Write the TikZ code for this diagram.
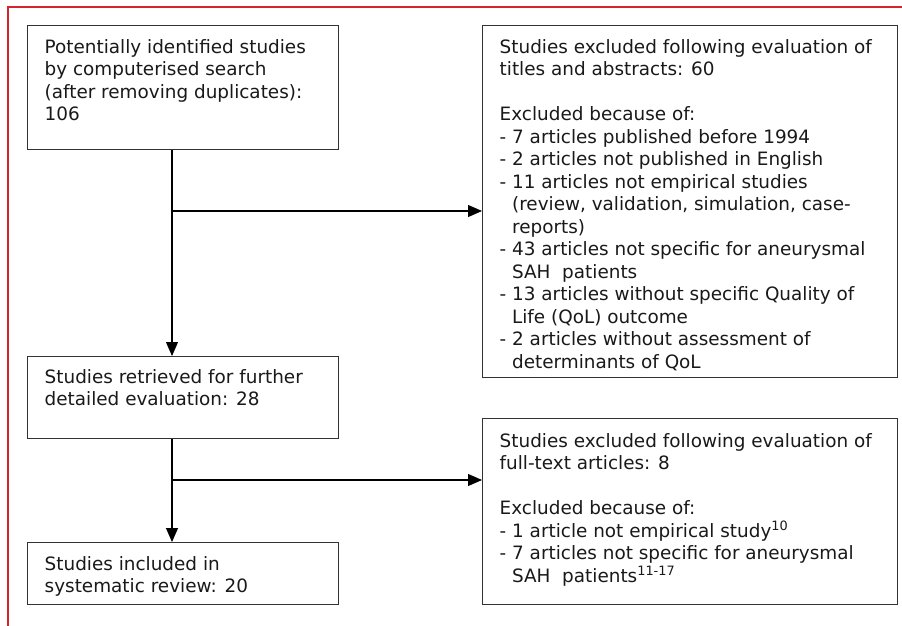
\documentclass[tikz,border=0pt]{standalone}
\usepackage{fontspec}
\setmainfont{DejaVu Sans}
\usetikzlibrary{arrows.meta}
\definecolor{framered}{RGB}{214,36,46}
\definecolor{boxline}{RGB}{50,50,50}
\tikzset{
  box/.style={draw=boxline, line width=1.3pt, rectangle, anchor=north west, inner sep=0pt},
  txt/.style={anchor=north west, inner sep=0pt, align=left, font=\fontsize{18.4}{22.5}\selectfont, text=black!90},
  conn/.style={draw=black, line width=1.1pt},
  arr/.style={conn, -{Triangle[length=14pt,width=12pt]}},
}
\newcommand{\fl}{\rule{0pt}{15pt}}
\newcommand{\ind}{\hspace*{12.4pt}}
\begin{document}
\begin{tikzpicture}[x=1pt,y=-1pt]
\useasboundingbox (0,0) rectangle (902,626);
% red frame
\draw[framered, line width=2pt] (8,627) -- (8,7) -- (903,7);
% boxes
\node[box, minimum width=311pt, minimum height=124pt] (A) at (27,25) {};
\node[box, minimum width=415pt, minimum height=352pt] (B) at (482,25) {};
\node[box, minimum width=311pt, minimum height=82pt] (C) at (27,356) {};
\node[box, minimum width=311pt, minimum height=62pt] (D) at (27,542) {};
\node[box, minimum width=415pt, minimum height=186pt] (E) at (482,418) {};
% texts
\node[txt] (tA) at (44.5,38) {\fl Potentially identified studies\\by computerised search\\(after removing duplicates):\\106};
\node[txt] (tB) at (499.5,38) {\fl Studies excluded following evaluation of\\titles and abstracts: 60\\[22.5pt]Excluded because of:\\- 7 articles published before 1994\\- 2 articles not published in English\\- 11 articles not empirical studies\\\ind(review, validation, simulation, case-\\\ind reports)\\- 43 articles not specific for aneurysmal\\\ind SAH\ \ patients\\- 13 articles without specific Quality of\\\ind Life (QoL) outcome\\- 2 articles without assessment of\\\ind determinants of QoL};
\node[txt] (tC) at (44.5,368) {\fl Studies retrieved for further\\detailed evaluation: 28};
\node[txt] (tD) at (44.5,555) {\fl Studies included in\\systematic review: 20};
\node[txt] (tE) at (499.5,432) {\fl Studies excluded following evaluation of\\full-text articles: 8\\[22.5pt]Excluded because of:\\- 1 article not empirical study\textsuperscript{10}\\- 7 articles not specific for aneurysmal\\\ind SAH\ \ patients\textsuperscript{11-17}};
% connectors
\coordinate (j1) at (172,211);
\coordinate (j2) at (172,480);
\draw[arr] (A.south -| j1) -- (C.north -| j1);
\draw[arr] (j1) -- (j1 -| B.west);
\draw[arr] (C.south -| j2) -- (D.north -| j2);
\draw[arr] (j2) -- (j2 -| E.west);
\end{tikzpicture}
\end{document}
